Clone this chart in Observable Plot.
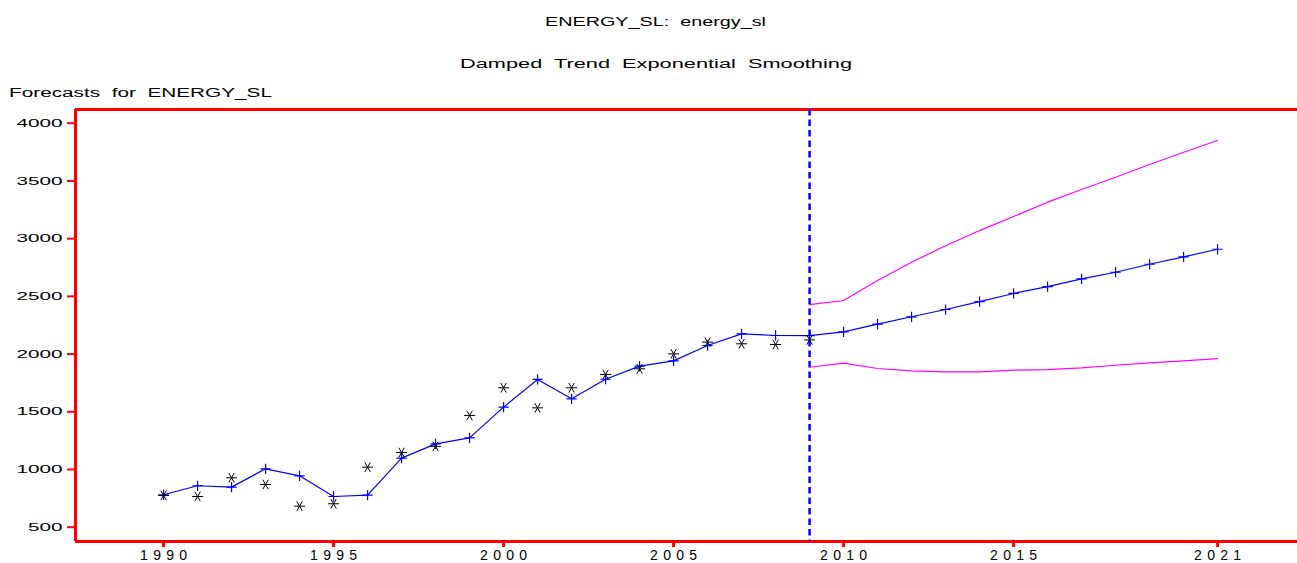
<!DOCTYPE html>
<html>
<head>
<meta charset="utf-8">
<script src="https://cdn.jsdelivr.net/npm/d3@7"></script>
<script src="https://cdn.jsdelivr.net/npm/@observablehq/plot@0.6"></script>
<style>
  html, body { margin: 0; padding: 0; background: #fff; }
  body { width: 1297px; height: 563px; overflow: hidden; font-family: "Liberation Sans", Arial, sans-serif; }
  #header { position: relative; height: 100px; }
  .hd { position: absolute; white-space: pre; font-size: 12.5px; line-height: 14px; color: #000; }
  #chart svg { display: block; }
</style>
</head>
<body>
<div id="header">
  <span class="hd" id="title">ENERGY_SL:  energy_sl</span>
  <span class="hd" id="subtitle">Damped  Trend  Exponential  Smoothing</span>
  <span class="hd" id="ylabel">Forecasts  for  ENERGY_SL</span>
</div>
<div id="chart"></div>
<script>
// Observed series (annual)
const obsYears = [1990, 1991, 1992, 1993, 1994, 1995, 1996, 1997, 1998, 1999,
                  2000, 2001, 2002, 2003, 2004, 2005, 2006, 2007, 2008, 2009];
const actual = [775, 766, 928, 870, 682, 703, 1020, 1147, 1200, 1468,
                1708, 1534, 1708, 1823, 1872, 2002, 2103, 2089, 2083, 2123];

// One-step-ahead predictions through 2009, then forecasts to 2021
const predYears = [1990, 1991, 1992, 1993, 1994, 1995, 1996, 1997, 1998, 1999,
                   2000, 2001, 2002, 2003, 2004, 2005, 2006, 2007, 2008, 2009,
                   2010, 2011, 2012, 2013, 2014, 2015, 2016, 2017, 2018, 2019, 2020, 2021];
const predicted = [781, 859, 847, 1006, 945, 766, 777, 1098, 1222, 1274,
                   1540, 1780, 1612, 1782, 1895, 1941, 2074, 2175, 2161, 2160,
                   2193, 2259, 2323, 2386, 2455, 2525, 2585, 2652, 2709, 2778, 2842, 2908];

// Confidence limits for the forecast horizon
const bandYears = [2009, 2010, 2011, 2012, 2013, 2014, 2015, 2016, 2017, 2018, 2019, 2020, 2021];
const upper = [2429, 2464, 2637, 2796, 2938, 3070, 3192, 3316, 3426, 3532, 3642, 3749, 3850];
const lower = [1886, 1921, 1875, 1855, 1846, 1846, 1860, 1866, 1881, 1903, 1924, 1941, 1961];

const forecastStart = [2009];
const xTicks = [1990, 1995, 2000, 2005, 2010, 2015, 2021];
const yTicks = [500, 1000, 1500, 2000, 2500, 3000, 3500, 4000];

const xDomain = [1987.41, 2023.35];
const yDomain = [376, 4119];

const obs = obsYears.map((year, i) => ({year, value: actual[i]}));
const pred = predYears.map((year, i) => ({year, value: predicted[i]}));
const upperBand = bandYears.map((year, i) => ({year, value: upper[i]}));
const lowerBand = bandYears.map((year, i) => ({year, value: lower[i]}));

const svg = Plot.plot({
  width: 1297,
  height: 463,
  marginTop: 9,
  marginBottom: 22,
  marginLeft: 75,
  marginRight: 0,
  style: {background: "white", color: "black", fontFamily: "Liberation Sans, Arial, sans-serif", overflow: "visible"},
  x: {domain: xDomain},
  y: {domain: yDomain},
  marks: [
    Plot.axisX({ticks: xTicks, tickFormat: d => String(d), tickSize: 6, tickPadding: 3,
                stroke: "red", strokeWidth: 3, fill: "black", fontSize: 14, label: null}),
    Plot.axisY({ticks: yTicks, tickFormat: d => String(d), tickSize: 8, tickPadding: 5,
                stroke: "red", strokeWidth: 2, fill: "black", fontSize: 11.5, label: null}),
    // plot frame: left, bottom and top edges
    Plot.ruleX([xDomain[0]], {stroke: "red", strokeWidth: 3}),
    Plot.ruleY(yDomain, {stroke: "red", strokeWidth: 3}),
    // start of forecast horizon
    Plot.ruleX(forecastStart, {stroke: "blue", strokeWidth: 2.5, strokeDasharray: "6.5,4"}),
    Plot.line(upperBand, {x: "year", y: "value", stroke: "#ff00ff", strokeWidth: 1.2}),
    Plot.line(lowerBand, {x: "year", y: "value", stroke: "#ff00ff", strokeWidth: 1.2}),
    Plot.line(pred, {x: "year", y: "value", stroke: "blue", strokeWidth: 1.2}),
    Plot.dot(pred, {x: "year", y: "value", symbol: "plus", r: 3.4, stroke: "blue", strokeWidth: 1.2}),
    Plot.dot(obs, {x: "year", y: "value", symbol: "asterisk", rotate: 90, r: 5.2, stroke: "black", strokeWidth: 1})
  ]
});
document.getElementById("chart").appendChild(svg);

// Wide, stretched tick lettering
d3.select(svg).selectAll('g[aria-label="y-axis tick label"] text')
  .attr("textLength", function() { return this.textContent.length * 11.5; })
  .attr("lengthAdjust", "spacingAndGlyphs");
d3.select(svg).selectAll('g[aria-label="x-axis tick label"] text')
  .attr("textLength", function() { return this.textContent.length * 11.75; })
  .attr("lengthAdjust", "spacing");

// Header lines stretched horizontally to their spans
function fit(id, left, top, width) {
  const el = document.getElementById(id);
  const w = el.getBoundingClientRect().width;
  el.style.left = left + "px";
  el.style.top = top + "px";
  el.style.transformOrigin = "0 0";
  el.style.transform = `scaleX(${width / w})`;
}
fit("title", 545, 15, 221);
fit("subtitle", 460, 57, 392);
fit("ylabel", 9, 86, 263);
</script>
</body>
</html>
